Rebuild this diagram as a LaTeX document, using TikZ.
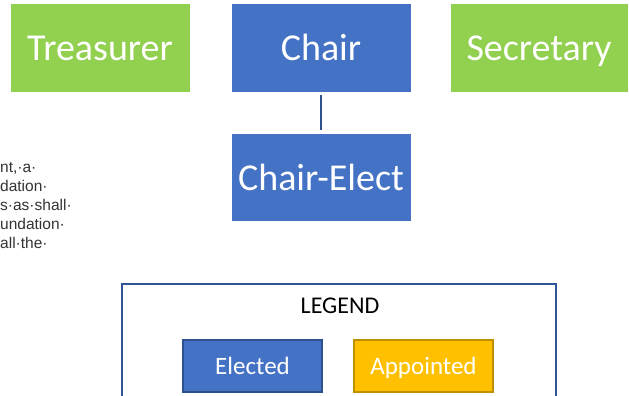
\documentclass[tikz,border=0pt]{standalone}
\usepackage{fontspec}
\setmainfont{Carlito}
\newfontfamily\arialf{Liberation Sans}
\definecolor{cblue}{HTML}{4472C4}
\definecolor{cgreen}{HTML}{92D050}
\definecolor{cgold}{HTML}{FFC000}
\definecolor{cgoldb}{HTML}{BF9000}
\definecolor{cblueb}{HTML}{2F528F}
\definecolor{clegb}{HTML}{2F5597}
\definecolor{ctext}{HTML}{333333}
\begin{document}
\begin{tikzpicture}[x=1pt,y=-1pt,
  mainbox/.style={minimum width=179pt,minimum height=87pt,inner sep=0pt,text=white,text height=26pt,text depth=0pt,font=\fontsize{38}{44}\selectfont},
  legbox/.style={minimum width=139pt,minimum height=52pt,inner sep=0pt,text=white,text height=17pt,text depth=0pt,font=\fontsize{25}{30}\selectfont,line width=1.2pt},
  bgtext/.style={anchor=base west,inner sep=0pt,text=ctext,font=\arialf\fontsize{15.5}{17}\selectfont}]
\useasboundingbox (0,0) rectangle (629,396);
\node[mainbox,fill=cgreen] (treas) at (100,48) {Treasurer};
\node[mainbox,fill=cblue] (chair) at (321,48) {Chair};
\node[mainbox,fill=cgreen,minimum width=177pt] (sec) at (539,48) {Secretary};
\node[mainbox,fill=cblue] (elect) at (321,177) {Chair-Elect};
\draw[cblueb,line width=1.2pt] ([yshift=-3pt]chair.south) -- ([yshift=3pt]elect.north);
\node[bgtext] (t1) at (0,172) {nt,·a·};
\node[bgtext] (t2) at (0,191) {dation·};
\node[bgtext] (t3) at (0,210) {s·as·shall·};
\node[bgtext] (t4) at (0,229) {undation·};
\node[bgtext] (t5) at (0,248) {all·the·};
\draw[clegb,line width=2pt] (122,420) -- (122,284) -- (556,284) -- (556,420);
\node[font=\fontsize{24}{28}\selectfont] (leg) at (340,306) {LEGEND};
\node[legbox,fill=cblue,draw=cblueb] (el) at (252.5,366) {Elected};
\node[legbox,fill=cgold,draw=cgoldb] (ap) at (423.5,366) {Appointed};
\end{tikzpicture}
\end{document}
